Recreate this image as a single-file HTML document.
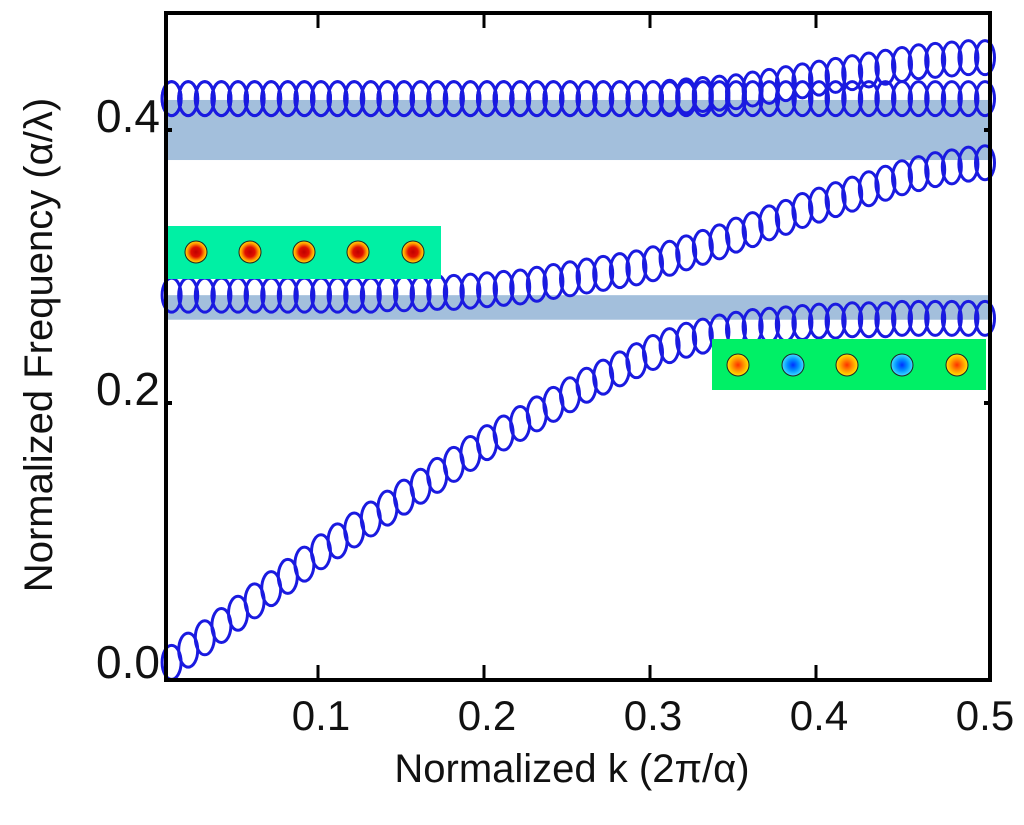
<!DOCTYPE html>
<html><head><meta charset="utf-8"><style>
html,body{margin:0;padding:0;background:#fff;}
svg text{font-family:"Liberation Sans","DejaVu Sans",sans-serif;fill:#111;}
</style></head><body>
<svg id="chart" width="1024" height="820" viewBox="0 0 1024 820" xmlns="http://www.w3.org/2000/svg">
<defs>
<radialGradient id="hot" cx="50%" cy="50%" r="50%"><stop offset="0" stop-color="#c00000"/><stop offset="0.45" stop-color="#e01000"/><stop offset="0.75" stop-color="#ff9000"/><stop offset="1" stop-color="#ffe000"/></radialGradient>
<radialGradient id="warm" cx="50%" cy="50%" r="50%"><stop offset="0" stop-color="#ff3000"/><stop offset="0.5" stop-color="#ff9000"/><stop offset="1" stop-color="#ffe800"/></radialGradient>
<radialGradient id="cold" cx="50%" cy="50%" r="50%"><stop offset="0" stop-color="#0030ff"/><stop offset="0.5" stop-color="#0090ff"/><stop offset="1" stop-color="#40e0ff"/></radialGradient>
</defs>
<g id="bands"></g>
<g id="series"></g>
<g id="insets"></g>
<g id="axes"></g>
</svg>
<script>
const kValues = [];
for (let i = 1; i <= 50; i++) kValues.push(i / 100);
const band1 = [0.010,0.019,0.028,0.037,0.046,0.055,0.064,0.073,0.082,0.091,
0.099,0.107,0.115,0.123,0.131,0.139,0.147,0.155,0.163,0.171,
0.178,0.185,0.192,0.199,0.206,0.213,0.219,0.225,0.231,0.237,
0.242,0.246,0.249,0.252,0.254,0.256,0.257,0.258,0.259,0.260,
0.260,0.261,0.261,0.261,0.262,0.262,0.262,0.262,0.262,0.262];
const band2 = [0.279,0.279,0.279,0.279,0.279,0.279,0.279,0.279,0.279,0.279,
0.279,0.279,0.279,0.280,0.280,0.280,0.281,0.281,0.282,0.283,
0.284,0.285,0.287,0.289,0.291,0.293,0.295,0.297,0.299,0.302,
0.306,0.310,0.314,0.318,0.323,0.327,0.332,0.336,0.341,0.345,
0.349,0.353,0.357,0.361,0.365,0.368,0.371,0.373,0.375,0.376];
const band3 = [0.423,0.423,0.423,0.423,0.423,0.423,0.423,0.423,0.423,0.423,
0.423,0.423,0.423,0.423,0.423,0.423,0.423,0.423,0.423,0.423,
0.423,0.423,0.423,0.423,0.423,0.423,0.423,0.423,0.423,0.423,
0.423,0.423,0.423,0.423,0.423,0.423,0.423,0.423,0.423,0.423,
0.423,0.423,0.423,0.423,0.423,0.423,0.423,0.423,0.423,0.423];
const band4 = [0.423,0.423,0.423,0.423,0.423,0.423,0.423,0.423,0.423,0.423,
0.423,0.423,0.423,0.423,0.423,0.423,0.423,0.423,0.423,0.423,
0.423,0.423,0.423,0.423,0.423,0.423,0.423,0.423,0.423,0.423,
0.424,0.425,0.426,0.427,0.428,0.430,0.432,0.434,0.436,0.438,
0.440,0.442,0.444,0.446,0.448,0.450,0.451,0.452,0.453,0.453];
const gapBands = [[0.378,0.422],[0.261,0.279]];
const xTicks = [0.1,0.2,0.3,0.4,0.5];
const xTickLabels = ["0.1","0.2","0.3","0.4","0.5"];
const yTicks = [0.0,0.2,0.4];
const yTickLabels = ["0.0","0.2","0.4"];

const NS = "http://www.w3.org/2000/svg";
const L = 166, R = 990, T = 13, B = 680;
function xs(k){ return 155 + k * 1660; }
function ys(f){ return 676 - f * 1365; }
function mk(tag, attrs, parent){ const e = document.createElementNS(NS, tag); for (const a in attrs) e.setAttribute(a, attrs[a]); parent.appendChild(e); return e; }

const gB = document.getElementById('bands');
gapBands.forEach((b, i) => {
  const r = mk('rect', {x:L, y:ys(b[1]), width:R-L, height:ys(b[0])-ys(b[1]), fill:'#a3bfdc'}, gB);
  
  
});

const gS = document.getElementById('series');
[band1, band2, band3, band4].forEach((arr, si) => {
  const g = mk('g', {}, gS);
  
  
  arr.forEach((v, i) => {
    const e = mk('ellipse', {cx:xs(kValues[i]), cy:ys(v), rx:9.5, ry:17, fill:'none', stroke:'#1a1ae0', 'stroke-width':3}, g);
    
    
  });
});

const gI = document.getElementById('insets');
function inset(x, y, w, h, bg, cxs, cy, fills, name){
  const g = mk('g', {}, gI);
  
  
  mk('rect', {x:x, y:y, width:w, height:h, fill:bg}, g);
  cxs.forEach((cx, i) => {
    const c = mk('circle', {cx:cx, cy:cy, r:11, fill:fills[i], stroke:'#222', 'stroke-width':1}, g);
    
    
  });
}
inset(168, 226, 273, 53, '#00f0a4', [196,250,304,358,413], 252, ['url(#hot)','url(#hot)','url(#hot)','url(#hot)','url(#hot)'], 'mode-profile-inset-lower');
inset(712, 339, 274, 51, '#00f066', [738,793,847,902,957], 365, ['url(#warm)','url(#cold)','url(#warm)','url(#cold)','url(#warm)'], 'mode-profile-inset-upper');

const gA = document.getElementById('axes');
const frame = mk('rect', {x:L, y:T, width:R-L, height:B-T, fill:'none', stroke:'#000', 'stroke-width':4}, gA);


xTicks.forEach((t, i) => {
  const x = xs(t);
  if (x < R - 8) {
    mk('line', {x1:x-3, y1:B, x2:x-3, y2:B-15, stroke:'#000', 'stroke-width':3}, gA);
    mk('line', {x1:x-3, y1:T, x2:x-3, y2:T+15, stroke:'#000', 'stroke-width':3}, gA);
  }
  const tx = mk('text', {x:x, y:730, 'font-size':42, 'text-anchor':'middle'}, gA);
  tx.textContent = xTickLabels[i];
  
  
});
yTicks.forEach((t, i) => {
  const y = ys(t);
  if (y < B - 5) {
    mk('line', {x1:L, y1:y, x2:L+6, y2:y, stroke:'#000', 'stroke-width':4}, gA);
    mk('line', {x1:R, y1:y, x2:R-6, y2:y, stroke:'#000', 'stroke-width':4}, gA);
  }
  const ty = mk('text', {x:160, y:y + 2, 'font-size':46, 'text-anchor':'end'}, gA);
  ty.textContent = yTickLabels[i];
  
  
});
const xl = mk('text', {x:572, y:782, 'font-size':40, 'text-anchor':'middle'}, gA);
xl.textContent = 'Normalized k (2\u03c0/\u03b1)';


const yl = mk('text', {x:0, y:0, 'font-size':40, 'text-anchor':'middle', transform:'translate(52,345) rotate(-90)'}, gA);
yl.textContent = 'Normalized Frequency (\u03b1/\u03bb)';


</script>
</body></html>
